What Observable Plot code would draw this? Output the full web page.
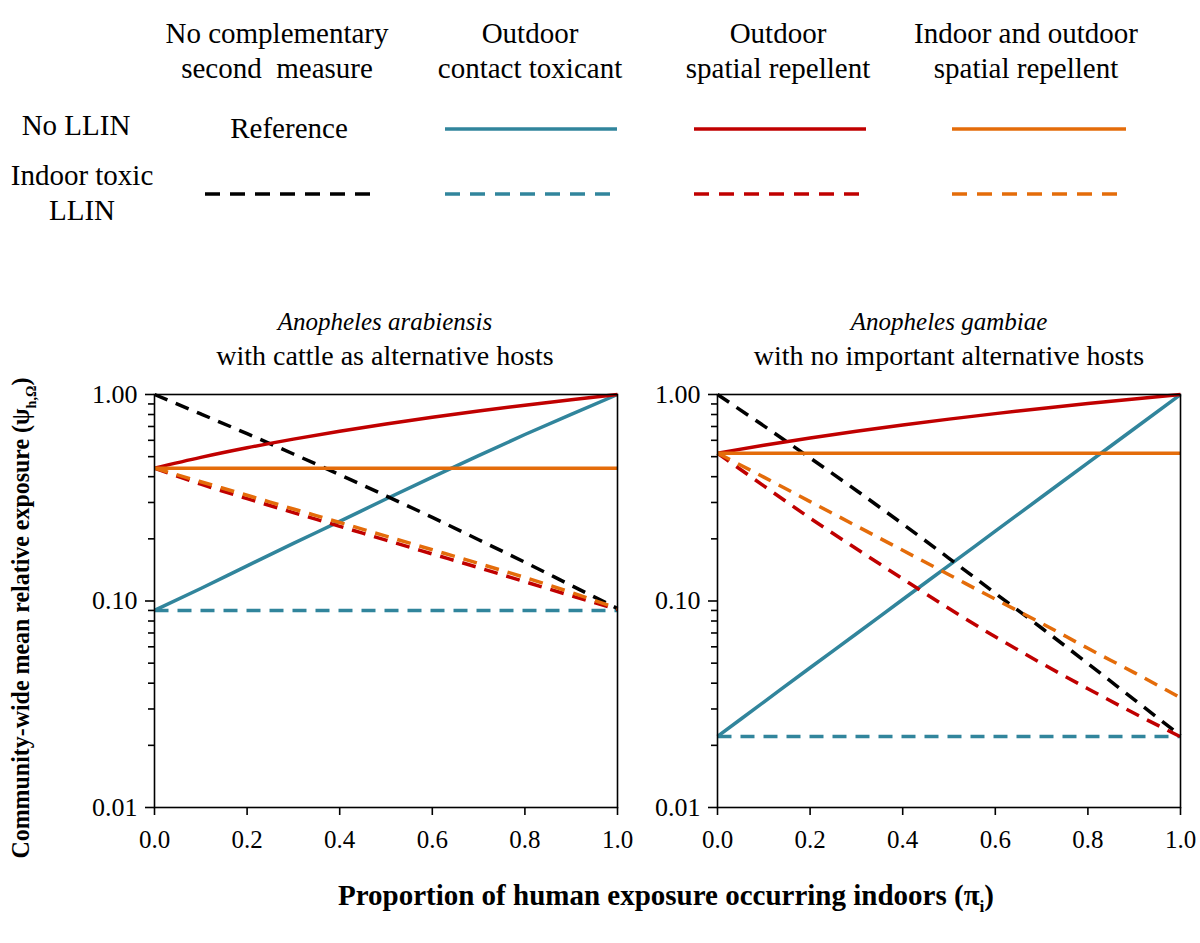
<!DOCTYPE html>
<html><head><meta charset="utf-8">
<script src="https://cdn.jsdelivr.net/npm/d3@7"></script>
<script src="https://cdn.jsdelivr.net/npm/@observablehq/plot@0.6"></script>
<style>
body{margin:0;background:#fff;}
#root{position:relative;width:1200px;height:943px;font-family:"Liberation Serif","Times New Roman",serif;color:#000;overflow:hidden;background:#fff;}
.abs{position:absolute;white-space:nowrap;}
</style></head><body><div id="root"></div>
<script>
// ---------- DATA ----------
const piValues = [0, 0.1, 0.2, 0.3, 0.4, 0.5, 0.6, 0.7, 0.8, 0.9, 1.0];

// Anopheles arabiensis (cattle as alternative hosts)
const arabLLINOnly      = [1.00, 0.805, 0.646, 0.515, 0.409, 0.323, 0.254, 0.198, 0.154, 0.119, 0.092];
const arabContact       = [0.09, 0.115, 0.148, 0.190, 0.243, 0.312, 0.398, 0.506, 0.640, 0.802, 1.00];
const arabContactLLIN   = [0.09, 0.09, 0.09, 0.09, 0.09, 0.09, 0.09, 0.09, 0.09, 0.09, 0.09];
const arabOutdoorSR     = [0.44, 0.496, 0.552, 0.608, 0.664, 0.72, 0.776, 0.832, 0.888, 0.944, 1.00];
const arabOutdoorSRLLIN = [0.44, 0.368, 0.313, 0.268, 0.230, 0.197, 0.169, 0.145, 0.124, 0.106, 0.091];
const arabBothSR        = [0.44, 0.44, 0.44, 0.44, 0.44, 0.44, 0.44, 0.44, 0.44, 0.44, 0.44];
const arabBothSRLLIN    = [0.44, 0.378, 0.325, 0.279, 0.240, 0.206, 0.177, 0.152, 0.130, 0.110, 0.092];

// Anopheles gambiae (no important alternative hosts)
const gambLLINOnly      = [1.00, 0.705, 0.493, 0.343, 0.236, 0.161, 0.109, 0.074, 0.0498, 0.0333, 0.0223];
const gambContact       = [0.0221, 0.0324, 0.0475, 0.0694, 0.1017, 0.1487, 0.2178, 0.3188, 0.4667, 0.6828, 1.00];
const gambContactLLIN   = [0.0221, 0.0221, 0.0221, 0.0221, 0.0221, 0.0221, 0.0221, 0.0221, 0.0221, 0.0221, 0.0221];
const gambOutdoorSR     = [0.52, 0.568, 0.616, 0.664, 0.712, 0.76, 0.808, 0.856, 0.904, 0.952, 1.00];
const gambOutdoorSRLLIN = [0.52, 0.361, 0.252, 0.179, 0.128, 0.092, 0.0671, 0.0499, 0.0376, 0.0286, 0.022];
const gambBothSR        = [0.52, 0.52, 0.52, 0.52, 0.52, 0.52, 0.52, 0.52, 0.52, 0.52, 0.52];
const gambBothSRLLIN    = [0.52, 0.398, 0.303, 0.231, 0.176, 0.134, 0.102, 0.078, 0.059, 0.045, 0.034];

// tick labels
const yMajorTicks = [0.01, 0.1, 1];
const yMinorTicks = [0.02,0.03,0.04,0.05,0.06,0.07,0.08,0.09,0.2,0.3,0.4,0.5,0.6,0.7,0.8,0.9];
const xTicks = [0, 0.2, 0.4, 0.6, 0.8, 1.0];

// legend text
const columnHeaders = [["No complementary","second  measure"],["Outdoor","contact toxicant"],["Outdoor","spatial repellent"],["Indoor and outdoor","spatial repellent"]];
const rowHeaders = [["No LLIN"],["Indoor toxic","LLIN"]];
const referenceLabel = "Reference";

// ---------- STYLES ----------
const TEAL = "#31859c", RED = "#c00000", ORANGE = "#e46c0a", BLACK = "#000000";
const DASH = "14,9";
const LEGEND_DASH = "15,10";
const LW = 3.5;
const FONT = '"Liberation Serif","Times New Roman",serif';

const root = document.getElementById("root");

// ---------- LEGEND ----------
const leg = d3.select(root).append("svg")
  .attr("width", 1200).attr("height", 240)
  .style("position","absolute").style("left","0px").style("top","0px")
  .style("font-family", FONT);

const headerX = [277, 530, 778, 1026];
columnHeaders.forEach((lines, i) => {
  lines.forEach((t, j) => {
    leg.append("text").attr("x", headerX[i]).attr("y", 43 + j*35)
      .attr("text-anchor","middle").attr("font-size", 29)
      .style("white-space","pre").text(t);
  });
});
leg.append("text").attr("x", 76).attr("y", 135).attr("text-anchor","middle").attr("font-size",29).text(rowHeaders[0][0]);
rowHeaders[1].forEach((t,j) => leg.append("text").attr("x", 82).attr("y", 185 + j*35).attr("text-anchor","middle").attr("font-size",29).text(t));
leg.append("text").attr("x", 289).attr("y", 138).attr("text-anchor","middle").attr("font-size",29).text(referenceLabel);

const legendSamples = [
  {x1:445, x2:617, y:129, c:TEAL, d:null},
  {x1:694, x2:866, y:129, c:RED, d:null},
  {x1:952, x2:1126, y:129, c:ORANGE, d:null},
  {x1:205, x2:372, y:194, c:BLACK, d:LEGEND_DASH},
  {x1:445, x2:612, y:194, c:TEAL, d:LEGEND_DASH},
  {x1:694, x2:860, y:194, c:RED, d:LEGEND_DASH},
  {x1:952, x2:1118, y:194, c:ORANGE, d:LEGEND_DASH}
];
legendSamples.forEach(s => {
  const l = leg.append("line").attr("x1", s.x1).attr("x2", s.x2).attr("y1", s.y).attr("y2", s.y)
    .attr("stroke", s.c).attr("stroke-width", LW);
  if (s.d) l.attr("stroke-dasharray", s.d);
});

// ---------- PANELS ----------
function panel(series) {
  const marks = [];
  series.forEach(s => {
    const rows = s.values.map((v, i) => ({pi: piValues[i], v}));
    marks.push(Plot.line(rows, {x: "pi", y: "v", stroke: s.color, strokeWidth: LW, curve: "monotone-x",
      strokeDasharray: s.dash || null, strokeLinecap: "butt", strokeLinejoin: "round"}));
  });
  return Plot.plot({
    width: 577, height: 487,
    marginLeft: 94, marginRight: 20, marginTop: 14, marginBottom: 60,
    style: {fontFamily: FONT, fontSize: "25px", color: "#000", background: "transparent", overflow: "visible"},
    x: {domain: [0, 1]},
    y: {type: "log", domain: [0.01, 1]},
    marks: [
      ...marks,
      Plot.frame({stroke: "#000", strokeWidth: 1.6}),
      Plot.axisY({ticks: yMinorTicks, tickSize: 6, tickFormat: () => "", label: null, strokeWidth: 1.6}),
      Plot.axisY({ticks: yMajorTicks, tickSize: 9, tickPadding: 8, tickFormat: d3.format(".2f"), label: null, strokeWidth: 1.6, fontSize: 26}),
      Plot.axisX({ticks: xTicks, tickSize: 8, tickPadding: 15, tickFormat: d3.format(".1f"), label: null, strokeWidth: 1.6, fontSize: 25})
    ]
  });
}

const arabSeries = [
  {values: arabContactLLIN, color: TEAL, dash: DASH},
  {values: arabContact, color: TEAL},
  {values: arabLLINOnly, color: BLACK, dash: DASH},
  {values: arabOutdoorSR, color: RED},
  {values: arabOutdoorSRLLIN, color: RED, dash: DASH},
  {values: arabBothSRLLIN, color: ORANGE, dash: DASH},
  {values: arabBothSR, color: ORANGE}
];
const gambSeries = [
  {values: gambContactLLIN, color: TEAL, dash: DASH},
  {values: gambContact, color: TEAL},
  {values: gambLLINOnly, color: BLACK, dash: DASH},
  {values: gambOutdoorSR, color: RED},
  {values: gambOutdoorSRLLIN, color: RED, dash: DASH},
  {values: gambBothSRLLIN, color: ORANGE, dash: DASH},
  {values: gambBothSR, color: ORANGE}
];

const p1 = panel(arabSeries);
p1.style.position = "absolute"; p1.style.left = "60px"; p1.style.top = "380px";
root.appendChild(p1);
const p2 = panel(gambSeries);
p2.style.position = "absolute"; p2.style.left = "623px"; p2.style.top = "380px";
root.appendChild(p2);

// ---------- TITLES ----------
function addText(html, cx, cy, style) {
  const d = document.createElement("div");
  d.className = "abs";
  d.innerHTML = html;
  Object.assign(d.style, {left: cx + "px", top: cy + "px", transform: "translate(-50%,-50%)"}, style || {});
  root.appendChild(d);
  return d;
}
addText("<i>Anopheles arabiensis</i>", 385, 322, {fontSize: "25px"});
addText("with cattle as alternative hosts", 385, 356, {fontSize: "28px"});
addText("<i>Anopheles gambiae</i>", 949, 322, {fontSize: "25px"});
addText("with no important alternative hosts", 949, 356, {fontSize: "28px"});

addText("Proportion of human exposure occurring indoors (π<sub style='font-size:60%'>i</sub>)", 666, 898,
  {fontSize: "29px", fontWeight: "bold"});
addText("Community-wide mean relative exposure (ψ<sub style='font-size:60%'>h,Ω</sub>)", 23, 618,
  {fontSize: "26px", fontWeight: "bold", transform: "translate(-50%,-50%) rotate(-90deg) scaleX(0.92)"});
</script>
</body></html>
